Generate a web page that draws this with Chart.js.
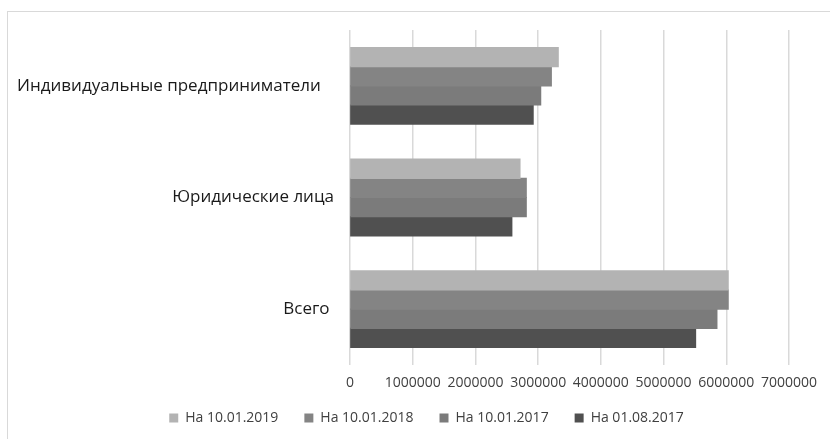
<!DOCTYPE html>
<html>
<head>
<meta charset="utf-8">
<script src="https://cdn.jsdelivr.net/npm/chart.js@4/dist/chart.umd.min.js"></script>
<style>
  html, body { margin: 0; padding: 0; background: #fff; }
  #wrap { position: relative; width: 830px; height: 439px; }
  #frame { position: absolute; left: 7px; top: 11px; right: -5px; bottom: -5px;
           border-left: 1px solid #d9d9d9; border-top: 1px solid #d9d9d9; }
  canvas { position: absolute; left: 0; top: 0; }
</style>
</head>
<body>
<div id="wrap">
  <div id="frame"></div>
  <canvas id="chart" width="830" height="439"></canvas>
</div>
<script>
// Категории (сверху вниз)
const categories = ['Индивидуальные предприниматели   ', 'Юридические лица', 'Всего '];

// Ряды
const seriesNames = ['На 10.01.2019', 'На 10.01.2018', 'На 10.01.2017', 'На 01.08.2017'];
const v20190110 = [3320000, 2710000, 6030000];
const v20180110 = [3210000, 2810000, 6030000];
const v20170110 = [3040000, 2810000, 5850000];
const v20170801 = [2920000, 2580000, 5510000];
const seriesColors = ['#b3b3b3', '#848484', '#7b7b7b', '#505050'];

// Подписи оси X
const tickLabels = ['0', '1000000', '2000000', '3000000', '4000000', '5000000', '6000000', '7000000'];

const seriesValues = [v20190110, v20180110, v20170110, v20170801];

// сдвиг легенды вправо и место под подписи оси X
const layoutFix = {
  id: 'layoutFix',
  afterLayout(chart) {
    chart.legend.left = 64;
    chart.scales.x.bottom = chart.scales.x.top + 40;
  }
};

const ctx = document.getElementById('chart').getContext('2d');

const chart = new Chart(ctx, {
  type: 'bar',
  data: {
    labels: categories,
    datasets: seriesNames.map((name, i) => ({
      label: name,
      data: seriesValues[i],
      backgroundColor: seriesColors[i],
      borderWidth: 0,
      inflateAmount: 0.6,
      barPercentage: 1,
      categoryPercentage: 0.687
    }))
  },
  options: {
    indexAxis: 'y',
    responsive: false,
    animation: false,
    layout: { padding: { top: 30, right: 41, bottom: 4, left: 0 } },
    plugins: {
      legend: {
        position: 'bottom',
        labels: {
          boxWidth: 9,
          boxHeight: 9,
          padding: 26,
          color: '#404040',
          font: { family: "'Open Sans', sans-serif", size: 14 }
        }
      },
      tooltip: { enabled: false }
    },
    scales: {
      x: {
        min: 0,
        max: 7000000,
        ticks: {
          stepSize: 1000000,
          color: '#404040',
          padding: 10,
          font: { family: "'Open Sans', sans-serif", size: 14 },
          maxRotation: 0,
          autoSkip: false,
          callback: (v, i) => tickLabels[i]
        },
        grid: { color: '#d9d9d9', lineWidth: 1.5, drawTicks: false },
        border: { display: false },
        afterFit: (scale) => { scale.height = 20; }
      },
      y: {
        ticks: {
          color: '#1a1a1a',
          padding: 8,
          font: { family: "'Open Sans', sans-serif", size: 17 }
        },
        grid: { display: false },
        border: { display: false },
        afterFit: (scale) => { scale.width = 350; }
      }
    }
  },
  plugins: [layoutFix]
});
</script>
</body>
</html>
